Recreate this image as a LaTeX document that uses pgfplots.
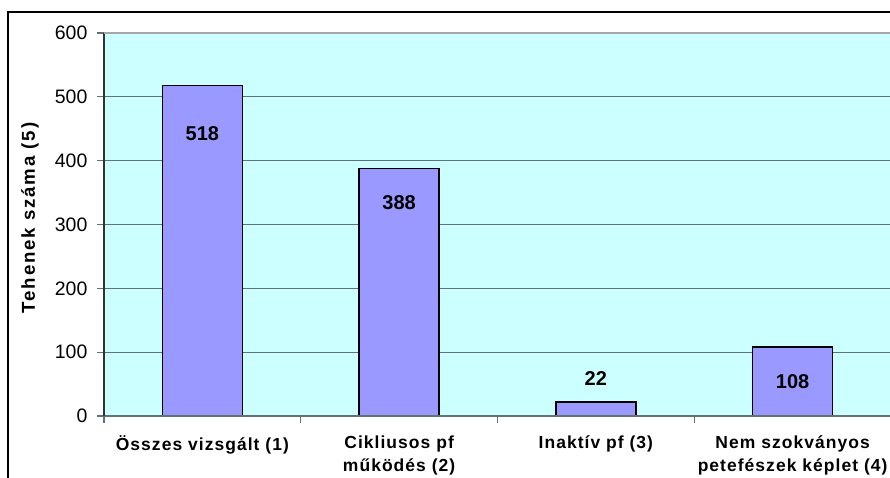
\documentclass[border=0pt]{standalone}
\usepackage{pgfplots}
\pgfplotsset{compat=1.18}
\usepackage{fontspec}
\setmainfont{Liberation Sans}
\newfontfamily\catfont[LetterSpace=6]{Liberation Sans}
\newfontfamily\ylabfont[LetterSpace=10]{Liberation Sans}

\definecolor{plotbg}{HTML}{CCFFFF}
\definecolor{barfill}{HTML}{9999FF}
\definecolor{gridgray}{HTML}{627272}

\begin{document}
\begin{tikzpicture}[x=0.75pt,y=0.75pt]
\begin{axis}[
  name=ax,
  at={(0pt,0pt)}, anchor=south west,
  scale only axis, width=590.25pt, height=287.25pt,
  xmin=-0.5, xmax=3.5, ymin=0, ymax=600,
  axis background/.style={fill=plotbg},
  axis line style={draw=none},
  ytick={0,100,...,600},
  ymajorgrids,
  grid style={draw=gridgray, line width=0.9pt},
  xtick={-0.5,0.5,1.5,2.5},
  xticklabels={},
  extra x ticks={0,1,2,3},
  extra x tick labels={Összes vizsgált (1),Cikliusos pf\\működés (2),Inaktív pf (3),Nem szokványos\\petefészek képlet (4)},
  extra x tick style={tick style={draw=none}, grid=none},
  tick pos=left,
  tick align=outside,
  major tick length=5.25pt,
  tick style={draw=gridgray, line width=0.9pt},
  /pgf/number format/assume math mode=true,
  yticklabel style={font=\fontsize{14.6}{17}\selectfont, anchor=east, inner sep=0pt, xshift=-7pt},
  xticklabel style={font=\catfont\bfseries\fontsize{13.1}{17.25}\selectfont, align=center, anchor=north, inner sep=0pt, yshift=-9.5pt},
  ylabel={Tehenek száma (5)},
  every axis y label/.style={at={(axis description cs:-0.094,0.517)}, rotate=90, anchor=center, font=\ylabfont\bfseries\fontsize{14}{16}\selectfont},
  clip=false,
]
\addplot[ybar, bar width=60pt, fill=barfill, draw=black, line width=1.2pt]
  coordinates {(0,518) (1,388) (2,22) (3,108)};
\addplot[draw=none, mark=none, point meta=explicit,
  nodes near coords, nodes near coords align=center,
  every node near coord/.append style={font=\bfseries\fontsize{15}{17}\selectfont, inner sep=0pt}]
  coordinates {(0,443)[518] (1,334)[388] (2,59)[22] (3,53.7)[108]};
% plot area border: dark left and bottom, light top
\draw[gridgray, line width=0.9pt] (rel axis cs:0,0) -- (rel axis cs:1,0);
\draw[black!80, line width=0.9pt] (rel axis cs:0,0) -- (rel axis cs:0,1);
\draw[black!35, line width=0.9pt] (rel axis cs:0,1) -- (rel axis cs:1,1);
\end{axis}
% outer chart frame, then the page box around the axis
\draw[line width=1.1pt] ([shift={(-96,-80)}]ax.south west) -- ([shift={(-96,404)}]ax.south west) -- ([shift={(800,404)}]ax.south west);
\pgfresetboundingbox
\useasboundingbox ([shift={(-104,-62)}]ax.south west) rectangle ([shift={(786,416)}]ax.south west);
\end{tikzpicture}
\end{document}
